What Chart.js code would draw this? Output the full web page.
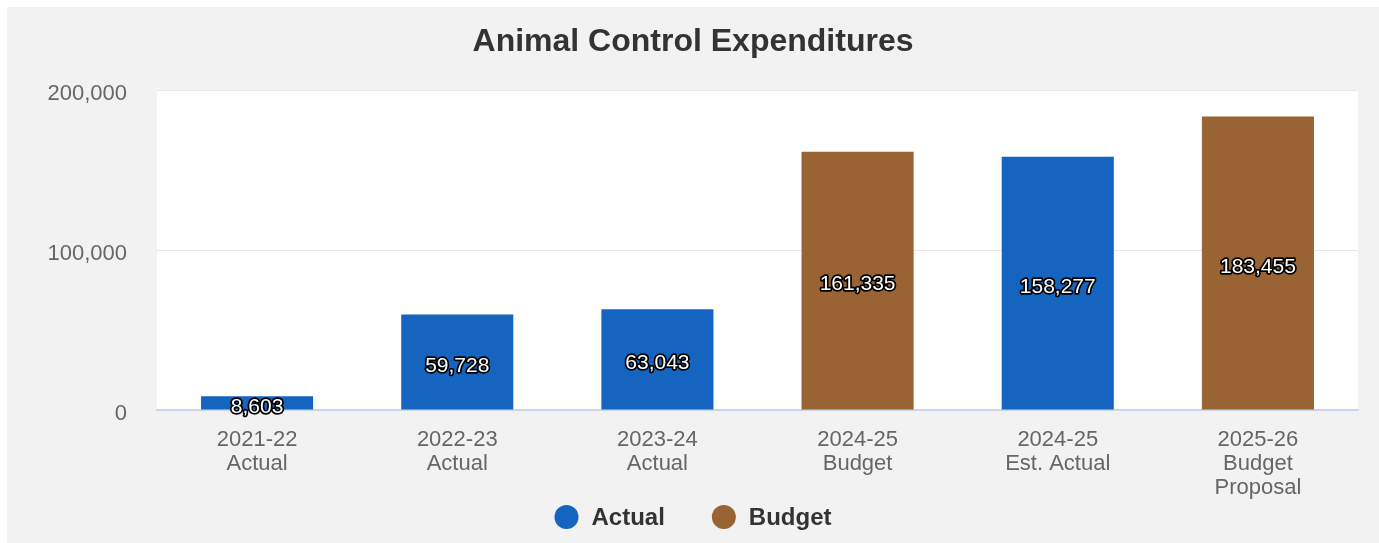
<!DOCTYPE html>
<html>
<head>
<meta charset="utf-8">
<script src="https://cdn.jsdelivr.net/npm/chart.js@4.4.1/dist/chart.umd.min.js"></script>
<style>
  html, body { margin: 0; padding: 0; background: #ffffff; }
  #wrap { position: relative; width: 1379px; height: 543px; }
  canvas { display: block; }
</style>
</head>
<body>
<div id="wrap"><canvas id="chart" width="1379" height="543"></canvas></div>
<script>
// Fiscal-year categories (multi-line tick labels)
const categories = [
  ['2021-22', 'Actual'],
  ['2022-23', 'Actual'],
  ['2023-24', 'Actual'],
  ['2024-25', 'Budget'],
  ['2024-25', 'Est. Actual'],
  ['2025-26', 'Budget', 'Proposal']
];
// Expenditures by series (null where the series has no bar)
const actualValues = [8603, 59728, 63043, null, 158277, null];
const budgetValues = [null, null, null, 161335, null, 183455];
const seriesNames = ['Actual', 'Budget'];
const seriesColors = ['#1565c0', '#9a6333'];
const yTicks = [0, 100000, 200000];

const FONT = '"Liberation Sans", Arial, Helvetica, sans-serif';
const fmt = v => Number(v).toLocaleString('en-US');

// Page frame: white margin with a light grey panel
const framePlugin = {
  id: 'frame',
  beforeDraw(chart) {
    const ctx = chart.ctx;
    ctx.save();
    ctx.fillStyle = '#ffffff';
    ctx.fillRect(0, 0, chart.width, chart.height);
    ctx.fillStyle = '#f2f2f2';
    ctx.fillRect(7, 7, chart.width - 7, chart.height - 7);
    const a = chart.chartArea;
    ctx.fillStyle = '#ffffff';
    ctx.fillRect(a.left, a.top, a.right - a.left, a.bottom - a.top);
    ctx.restore();
  }
};

// Title and legend drawn around the plot
const decorPlugin = {
  id: 'decor',
  afterDraw(chart) {
    const ctx = chart.ctx;
    ctx.save();
    ctx.fillStyle = '#333333';
    ctx.font = 'bold 32px ' + FONT;
    ctx.textAlign = 'center';
    ctx.textBaseline = 'middle';
    ctx.fillText('Animal Control Expenditures', 693, 42);

    // legend
    ctx.font = 'bold 24px ' + FONT;
    ctx.textAlign = 'left';
    const y = 517;
    const items = chart.data.datasets.map(d => ({ label: d.label, color: d.backgroundColor }));
    const circleR = 12, gap = 13, itemGap = 47;
    let total = 0;
    const widths = items.map(it => ctx.measureText(it.label).width);
    items.forEach((it, i) => { total += circleR * 2 + gap + widths[i]; if (i) total += itemGap; });
    let x = 693 - total / 2;
    items.forEach((it, i) => {
      ctx.beginPath();
      ctx.arc(x + circleR, y, circleR, 0, Math.PI * 2);
      ctx.fillStyle = it.color;
      ctx.fill();
      ctx.fillStyle = '#333333';
      ctx.fillText(it.label, x + circleR * 2 + gap, y + 1);
      x += circleR * 2 + gap + widths[i] + itemGap;
    });
    ctx.restore();
  }
};

// Value labels centred in each bar
const valueLabelPlugin = {
  id: 'valueLabels',
  afterDatasetsDraw(chart) {
    const ctx = chart.ctx;
    ctx.save();
    ctx.font = '21px ' + FONT;
    ctx.textAlign = 'center';
    ctx.textBaseline = 'middle';
    ctx.lineJoin = 'round';
    chart.data.datasets.forEach((ds, di) => {
      const meta = chart.getDatasetMeta(di);
      meta.data.forEach((el, i) => {
        const v = ds.data[i];
        if (v === null || v === undefined) return;
        const cx = el.x;
        const cy = (el.y + el.base) / 2 + 4;
        const t = fmt(v);
        ctx.strokeStyle = '#000000';
        ctx.lineWidth = 3.5;
        ctx.strokeText(t, cx, cy);
        ctx.fillStyle = '#ffffff';
        ctx.fillText(t, cx, cy);
      });
    });
    ctx.restore();
  }
};

new Chart(document.getElementById('chart'), {
  type: 'bar',
  data: {
    labels: categories,
    datasets: [
      { label: seriesNames[0], data: actualValues, backgroundColor: seriesColors[0] },
      { label: seriesNames[1], data: budgetValues, backgroundColor: seriesColors[1] }
    ]
  },
  options: {
    responsive: false,
    animation: false,
    devicePixelRatio: 1,
    layout: { padding: { top: 90, right: 21, bottom: 0, left: 0 } },
    datasets: {
      bar: { barPercentage: 0.56, categoryPercentage: 1.0, borderWidth: 0 }
    },
    plugins: {
      legend: { display: false },
      title: { display: false },
      tooltip: { enabled: false }
    },
    scales: {
      x: {
        stacked: true,
        grid: { display: false, drawTicks: false },
        border: { display: true, color: '#ccd6eb', width: 2 },
        ticks: {
          color: '#666666',
          font: { family: FONT, size: 22, lineHeight: 1.09 },
          padding: 18,
          maxRotation: 0,
          autoSkip: false
        },
        afterFit(scale) { scale.height = 133; }
      },
      y: {
        stacked: true,
        min: 0,
        max: 200000,
        afterBuildTicks(scale) { scale.ticks = yTicks.map(v => ({ value: v })); },
        grid: { color: '#e6e6e6', lineWidth: 1, drawTicks: false },
        border: { display: false },
        ticks: {
          color: '#666666',
          font: { family: FONT, size: 22 },
          padding: 30,
          labelOffset: 4,
          callback: v => fmt(v)
        },
        afterFit(scale) { scale.width = 157; }
      }
    }
  },
  plugins: [framePlugin, decorPlugin, valueLabelPlugin]
});
</script>
</body>
</html>
